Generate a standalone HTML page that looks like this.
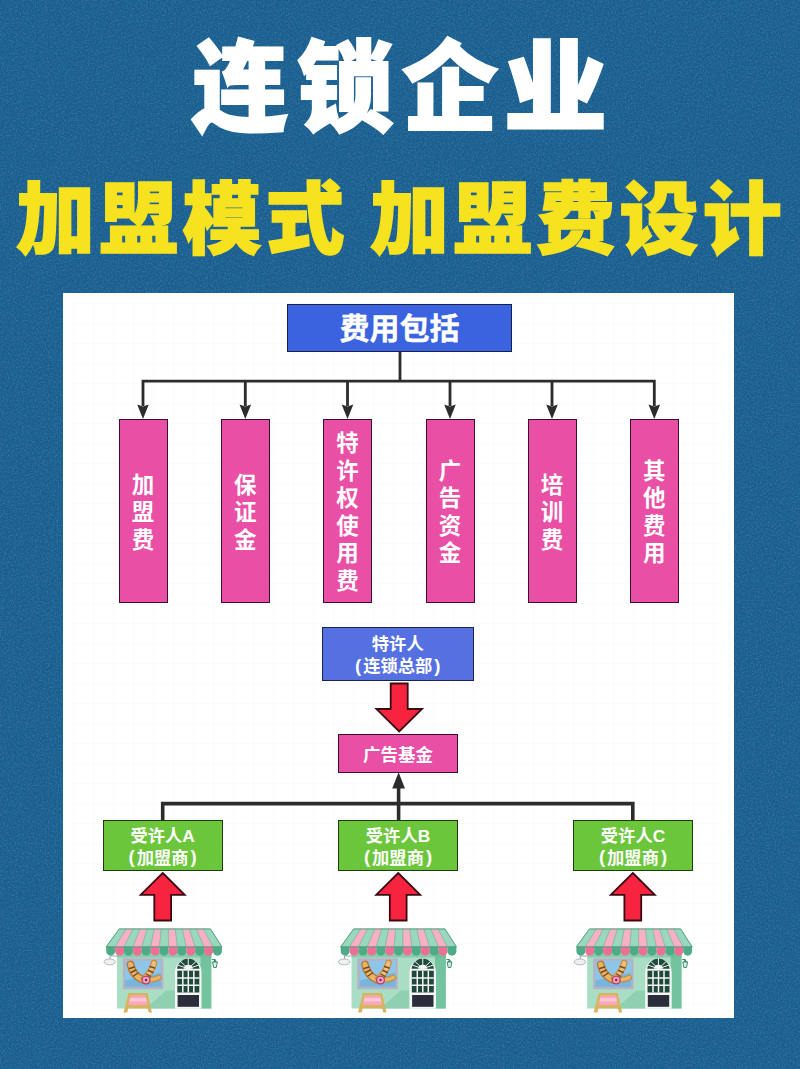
<!DOCTYPE html>
<html lang="zh-CN">
<head>
<meta charset="utf-8">
<title>连锁企业 加盟模式 加盟费设计</title>
<style>
html,body{margin:0;padding:0;}
body{width:800px;height:1069px;position:relative;overflow:hidden;background:#195c8e;
  font-family:"Liberation Sans","Noto Sans CJK SC",sans-serif;}
.abs{position:absolute;}
h1,h2{margin:0;position:absolute;white-space:nowrap;font-weight:900;font-family:"Liberation Sans","Noto Sans CJK SC",sans-serif;}
h1{left:192.4px;top:13.5px;font-size:99.2px;line-height:150px;color:#fff;letter-spacing:9.8px;-webkit-text-stroke:2.2px #fff;transform:scaleX(.965);transform-origin:0 0;}
h1 span{display:inline-block;transform:scaleX(1.08);transform-origin:45% 50%;}
h2{left:16px;top:162.5px;font-size:79px;line-height:116px;color:#f6e21f;letter-spacing:4.2px;word-spacing:-5px;-webkit-text-stroke:1.5px #f6e21f;}
#panel{left:63px;top:293px;width:670.5px;height:725px;background:#fff;}
#grid{left:10px;top:10px;width:650px;height:705px;
 background-image:linear-gradient(to right,rgba(0,0,0,.014) 1px,transparent 1px),linear-gradient(to bottom,rgba(0,0,0,.014) 1px,transparent 1px);
 background-size:20px 20px;}
.box{position:absolute;box-sizing:border-box;border:1.8px solid #222;color:#fff;font-weight:700;
  display:flex;align-items:center;justify-content:center;text-align:center;}
.pink{background:#e84fa5;border-color:#3a1030;}
.vbox{top:418.5px;width:49px;height:184.5px;font-size:22.5px;line-height:27.5px;padding-top:4px;}
.vbox span{display:block;width:23px;word-break:break-all;}
.blue1{background:#3b63e0;border-color:#14214f;}
.blue2{background:#5571e1;border-color:#1a2450;}
.green{background:#6cc63c;border-color:#1f3a12;}
.two{font-size:17.3px;line-height:22px;padding-top:2.5px;}
.two i{font-style:normal;font-size:18.5px;margin:0 2px 0 1px;position:relative;top:-.5px;}
.two i+i,.two i.r{margin:0 1px 0 2px;}
svg{position:absolute;left:0;top:0;}
</style>
</head>
<body>
<svg id="noise" width="800" height="1069" viewBox="0 0 800 1069"><filter id="nz" x="0" y="0" width="100%" height="100%"><feTurbulence type="fractalNoise" baseFrequency=".55" numOctaves="2" seed="7" result="t"/><feColorMatrix in="t" type="matrix" values="0 0 0 0 .02  0 0 0 0 .18  0 0 0 0 .32  .8 0 0 0 -.3"/></filter><filter id="nw" x="0" y="0" width="100%" height="100%"><feTurbulence type="fractalNoise" baseFrequency=".6" numOctaves="2" seed="21" result="t"/><feColorMatrix in="t" type="matrix" values="0 0 0 0 .3  0 0 0 0 .6  0 0 0 0 .82  0 .45 0 0 -.19"/></filter><rect width="800" height="1069" filter="url(#nz)"/><rect width="800" height="1069" filter="url(#nw)"/></svg>
<h1>连锁企<span>业</span></h1>
<h2>加盟模式 加盟费设计</h2>
<div id="panel" class="abs"><div id="grid" class="abs"></div></div>

<svg id="lines" width="800" height="1069" viewBox="0 0 800 1069">
<g fill="none" stroke="#2c2c2c" stroke-width="2.8" stroke-linejoin="miter">
<path d="M400 351V381.1"/>
<path d="M143 406V381.1H654.3V406"/>
<path d="M245.3 381.1V406M347.5 381.1V406M450 381.1V406M552 381.1V406"/>
</g>
<g fill="#2c2c2c"><path d="M143 419L137.2 404.5L143 406.5L148.8 404.5Z"/><path d="M245.3 419L239.5 404.5L245.3 406.5L251.1 404.5Z"/><path d="M347.5 419L341.7 404.5L347.5 406.5L353.3 404.5Z"/><path d="M450 419L444.2 404.5L450 406.5L455.8 404.5Z"/><path d="M552 419L546.2 404.5L552 406.5L557.8 404.5Z"/><path d="M654.3 419L648.5 404.5L654.3 406.5L660.1 404.5Z"/></g>
<g fill="none" stroke="#2c2c2c" stroke-width="3.6" stroke-linejoin="miter">
<path d="M162.7 821V803.6H632.8V821"/>
<path d="M398.6 821V786"/>
</g>
<path fill="#2c2c2c" d="M398.6 772.3L405 788.5H392.2Z"/>
<g fill="#f6243e" stroke="#3a0a14" stroke-width="1.8" stroke-linejoin="miter">
<path d="M390.7 683.5H407.7V709H422L399.2 731.5L376.4 709H390.7Z"/>
<path d="M162.7 873L184.7 894.8H171.1V920.5H154.3V894.8H140.7Z"/>
<path d="M398.2 873L420.2 894.8H406.6V920.5H389.8V894.8H376.2Z"/>
<path d="M632.8 873L654.8 894.8H641.2V920.5H624.4V894.8H610.8Z"/>
</g>
<g transform="translate(106 928.5)"><rect x="11" y="22" width="94.3" height="58" fill="#a9dec4"/><path d="M94.5 22H105.3V80H94.5Z" fill="#74c39f"/><path d="M69 80L40 80L60 62L69 62Z" fill="#8fd0b0"/><rect x="11" y="22" width="94.3" height="7" fill="#6bb896" opacity=".5"/><rect x="16.9" y="29.9" width="40.4" height="30.8" fill="#b7b1c8"/><rect x="19.2" y="32.2" width="35.8" height="26" fill="#8ec6ea"/><path d="M19.2 52L55 44V58.2H19.2Z" fill="#79b4dd"/><g stroke-linecap="round" fill="none"><path d="M24.5 36Q26.5 46.5 36 51" stroke="#b87a34" stroke-width="7.8"/><path d="M24.5 36Q26.5 46.5 36 51" stroke="#e7b566" stroke-width="5"/><path d="M48 34.5Q45.5 44 38 50" stroke="#c98a3c" stroke-width="6.5"/><path d="M48 34.5Q45.5 44 38 50" stroke="#ecc07a" stroke-width="4.2"/><path d="M53 49Q47 52 42 51" stroke="#c98a3c" stroke-width="5.5"/><path d="M53 49Q47 52 42 51" stroke="#e7b566" stroke-width="3.4"/><path d="M23.5 40l5-1.5M25 44l5-2.5M27.5 47.5l4.5-3M44 38l4.5 1.5M42.5 42l4.5 2M40.5 45.5l4 2.5" stroke="#7a4520" stroke-width="1.4"/></g><circle cx="40" cy="51.5" r="4.6" fill="#b0426a"/><circle cx="40" cy="51.5" r="3.3" fill="#f2a0c0"/><circle cx="40" cy="51.5" r="1.2" fill="#7b2b4a"/><path d="M69 80V43.5A13.25 13.25 0 0 1 95.5 43.5V80Z" fill="#f4f7f5"/><path d="M71 40.2A11.3 11.3 0 0 1 93.5 40.2Z" fill="#1f4a3c"/><g stroke="#f4f7f5" stroke-width="1" fill="none"><path d="M82.25 40.2V29.5M82.25 40.2L74 32.5M82.25 40.2L90.5 32.5M82.25 40.2L71.5 36.5M82.25 40.2L93 36.5"/></g><path d="M77.7 40.2A4.6 4.6 0 0 1 86.8 40.2Z" fill="#f4f7f5"/><rect x="71.3" y="42.2" width="22" height="21.8" fill="#21473b"/><g stroke="#f4f7f5" stroke-width="1.5"><path d="M76.8 42.2V64M82.3 42.2V64M87.8 42.2V64M71.3 49.4H93.3M71.3 56.7H93.3"/></g><rect x="71.6" y="66.5" width="21.4" height="11.8" fill="#2a2e3b"/><path d="M22.5 64.5H41.5L46 84H42.8L41.8 80H22.2L21.2 84H17.5Z" fill="#d9b45f"/><path d="M24.3 67H39.7L41.7 76.5H22.3Z" fill="#f6a9bd"/><path d="M24 69.5H40L40.8 73H23.2Z" fill="#fbc6d3"/><path d="M11 27.5H4V30.5" stroke="#9aa7a8" stroke-width="1" fill="none"/><ellipse cx="3.7" cy="33.4" rx="5.7" ry="2.9" fill="#eef1f2" stroke="#aab4b6" stroke-width=".9"/><path d="M106 31H109V33" stroke="#3f8f6d" stroke-width="1" fill="none"/><path d="M106.6 33.5H111.4L110.3 39H107.7Z" fill="#d8efe4" stroke="#3f8f6d" stroke-width="1"/><path d="M107 33.5L109 30.5L111 33.5Z" fill="#3f8f6d"/><path d="M13.2 0.4H20.22L9.1 18.3H0.2Z" fill="#9ad8bd" stroke="#6fa892" stroke-width=".5"/><path d="M0.2 18.3H9.1V22.7A4.45 4.45 0 0 1 0.2 22.7Z" fill="#4dab86"/><path d="M20.22 0.4H27.25L18 18.3H9.1Z" fill="#f8b0c5" stroke="#6fa892" stroke-width=".5"/><path d="M9.1 18.3H18V22.7A4.45 4.45 0 0 1 9.1 22.7Z" fill="#ee6f94"/><path d="M27.25 0.4H34.27L26.9 18.3H18Z" fill="#9ad8bd" stroke="#6fa892" stroke-width=".5"/><path d="M18 18.3H26.9V22.7A4.45 4.45 0 0 1 18 22.7Z" fill="#4dab86"/><path d="M34.27 0.4H41.29L35.8 18.3H26.9Z" fill="#f8b0c5" stroke="#6fa892" stroke-width=".5"/><path d="M26.9 18.3H35.8V22.7A4.45 4.45 0 0 1 26.9 22.7Z" fill="#ee6f94"/><path d="M41.29 0.4H48.32L44.7 18.3H35.8Z" fill="#9ad8bd" stroke="#6fa892" stroke-width=".5"/><path d="M35.8 18.3H44.7V22.7A4.45 4.45 0 0 1 35.8 22.7Z" fill="#4dab86"/><path d="M48.32 0.4H55.34L53.6 18.3H44.7Z" fill="#f8b0c5" stroke="#6fa892" stroke-width=".5"/><path d="M44.7 18.3H53.6V22.7A4.45 4.45 0 0 1 44.7 22.7Z" fill="#ee6f94"/><path d="M55.34 0.4H62.36L62.5 18.3H53.6Z" fill="#9ad8bd" stroke="#6fa892" stroke-width=".5"/><path d="M53.6 18.3H62.5V22.7A4.45 4.45 0 0 1 53.6 22.7Z" fill="#4dab86"/><path d="M62.36 0.4H69.38L71.4 18.3H62.5Z" fill="#f8b0c5" stroke="#6fa892" stroke-width=".5"/><path d="M62.5 18.3H71.4V22.7A4.45 4.45 0 0 1 62.5 22.7Z" fill="#ee6f94"/><path d="M69.38 0.4H76.41L80.3 18.3H71.4Z" fill="#9ad8bd" stroke="#6fa892" stroke-width=".5"/><path d="M71.4 18.3H80.3V22.7A4.45 4.45 0 0 1 71.4 22.7Z" fill="#4dab86"/><path d="M76.41 0.4H83.43L89.2 18.3H80.3Z" fill="#f8b0c5" stroke="#6fa892" stroke-width=".5"/><path d="M80.3 18.3H89.2V22.7A4.45 4.45 0 0 1 80.3 22.7Z" fill="#ee6f94"/><path d="M83.43 0.4H90.45L98.1 18.3H89.2Z" fill="#9ad8bd" stroke="#6fa892" stroke-width=".5"/><path d="M89.2 18.3H98.1V22.7A4.45 4.45 0 0 1 89.2 22.7Z" fill="#4dab86"/><path d="M90.45 0.4H97.48L107 18.3H98.1Z" fill="#f8b0c5" stroke="#6fa892" stroke-width=".5"/><path d="M98.1 18.3H107V22.7A4.45 4.45 0 0 1 98.1 22.7Z" fill="#ee6f94"/><path d="M97.48 0.4H104.5L115.9 18.3H107Z" fill="#9ad8bd" stroke="#6fa892" stroke-width=".5"/><path d="M107 18.3H115.9V22.7A4.45 4.45 0 0 1 107 22.7Z" fill="#4dab86"/><path d="M13.2 0.4H104.5L115.9 18.3H0.2Z" fill="none" stroke="#4a9a7c" stroke-width=".8"/></g>
<g transform="translate(340.5 928.5)"><rect x="11" y="22" width="94.3" height="58" fill="#a9dec4"/><path d="M94.5 22H105.3V80H94.5Z" fill="#74c39f"/><path d="M69 80L40 80L60 62L69 62Z" fill="#8fd0b0"/><rect x="11" y="22" width="94.3" height="7" fill="#6bb896" opacity=".5"/><rect x="16.9" y="29.9" width="40.4" height="30.8" fill="#b7b1c8"/><rect x="19.2" y="32.2" width="35.8" height="26" fill="#8ec6ea"/><path d="M19.2 52L55 44V58.2H19.2Z" fill="#79b4dd"/><g stroke-linecap="round" fill="none"><path d="M24.5 36Q26.5 46.5 36 51" stroke="#b87a34" stroke-width="7.8"/><path d="M24.5 36Q26.5 46.5 36 51" stroke="#e7b566" stroke-width="5"/><path d="M48 34.5Q45.5 44 38 50" stroke="#c98a3c" stroke-width="6.5"/><path d="M48 34.5Q45.5 44 38 50" stroke="#ecc07a" stroke-width="4.2"/><path d="M53 49Q47 52 42 51" stroke="#c98a3c" stroke-width="5.5"/><path d="M53 49Q47 52 42 51" stroke="#e7b566" stroke-width="3.4"/><path d="M23.5 40l5-1.5M25 44l5-2.5M27.5 47.5l4.5-3M44 38l4.5 1.5M42.5 42l4.5 2M40.5 45.5l4 2.5" stroke="#7a4520" stroke-width="1.4"/></g><circle cx="40" cy="51.5" r="4.6" fill="#b0426a"/><circle cx="40" cy="51.5" r="3.3" fill="#f2a0c0"/><circle cx="40" cy="51.5" r="1.2" fill="#7b2b4a"/><path d="M69 80V43.5A13.25 13.25 0 0 1 95.5 43.5V80Z" fill="#f4f7f5"/><path d="M71 40.2A11.3 11.3 0 0 1 93.5 40.2Z" fill="#1f4a3c"/><g stroke="#f4f7f5" stroke-width="1" fill="none"><path d="M82.25 40.2V29.5M82.25 40.2L74 32.5M82.25 40.2L90.5 32.5M82.25 40.2L71.5 36.5M82.25 40.2L93 36.5"/></g><path d="M77.7 40.2A4.6 4.6 0 0 1 86.8 40.2Z" fill="#f4f7f5"/><rect x="71.3" y="42.2" width="22" height="21.8" fill="#21473b"/><g stroke="#f4f7f5" stroke-width="1.5"><path d="M76.8 42.2V64M82.3 42.2V64M87.8 42.2V64M71.3 49.4H93.3M71.3 56.7H93.3"/></g><rect x="71.6" y="66.5" width="21.4" height="11.8" fill="#2a2e3b"/><path d="M22.5 64.5H41.5L46 84H42.8L41.8 80H22.2L21.2 84H17.5Z" fill="#d9b45f"/><path d="M24.3 67H39.7L41.7 76.5H22.3Z" fill="#f6a9bd"/><path d="M24 69.5H40L40.8 73H23.2Z" fill="#fbc6d3"/><path d="M11 27.5H4V30.5" stroke="#9aa7a8" stroke-width="1" fill="none"/><ellipse cx="3.7" cy="33.4" rx="5.7" ry="2.9" fill="#eef1f2" stroke="#aab4b6" stroke-width=".9"/><path d="M106 31H109V33" stroke="#3f8f6d" stroke-width="1" fill="none"/><path d="M106.6 33.5H111.4L110.3 39H107.7Z" fill="#d8efe4" stroke="#3f8f6d" stroke-width="1"/><path d="M107 33.5L109 30.5L111 33.5Z" fill="#3f8f6d"/><path d="M13.2 0.4H20.22L9.1 18.3H0.2Z" fill="#9ad8bd" stroke="#6fa892" stroke-width=".5"/><path d="M0.2 18.3H9.1V22.7A4.45 4.45 0 0 1 0.2 22.7Z" fill="#4dab86"/><path d="M20.22 0.4H27.25L18 18.3H9.1Z" fill="#f8b0c5" stroke="#6fa892" stroke-width=".5"/><path d="M9.1 18.3H18V22.7A4.45 4.45 0 0 1 9.1 22.7Z" fill="#ee6f94"/><path d="M27.25 0.4H34.27L26.9 18.3H18Z" fill="#9ad8bd" stroke="#6fa892" stroke-width=".5"/><path d="M18 18.3H26.9V22.7A4.45 4.45 0 0 1 18 22.7Z" fill="#4dab86"/><path d="M34.27 0.4H41.29L35.8 18.3H26.9Z" fill="#f8b0c5" stroke="#6fa892" stroke-width=".5"/><path d="M26.9 18.3H35.8V22.7A4.45 4.45 0 0 1 26.9 22.7Z" fill="#ee6f94"/><path d="M41.29 0.4H48.32L44.7 18.3H35.8Z" fill="#9ad8bd" stroke="#6fa892" stroke-width=".5"/><path d="M35.8 18.3H44.7V22.7A4.45 4.45 0 0 1 35.8 22.7Z" fill="#4dab86"/><path d="M48.32 0.4H55.34L53.6 18.3H44.7Z" fill="#f8b0c5" stroke="#6fa892" stroke-width=".5"/><path d="M44.7 18.3H53.6V22.7A4.45 4.45 0 0 1 44.7 22.7Z" fill="#ee6f94"/><path d="M55.34 0.4H62.36L62.5 18.3H53.6Z" fill="#9ad8bd" stroke="#6fa892" stroke-width=".5"/><path d="M53.6 18.3H62.5V22.7A4.45 4.45 0 0 1 53.6 22.7Z" fill="#4dab86"/><path d="M62.36 0.4H69.38L71.4 18.3H62.5Z" fill="#f8b0c5" stroke="#6fa892" stroke-width=".5"/><path d="M62.5 18.3H71.4V22.7A4.45 4.45 0 0 1 62.5 22.7Z" fill="#ee6f94"/><path d="M69.38 0.4H76.41L80.3 18.3H71.4Z" fill="#9ad8bd" stroke="#6fa892" stroke-width=".5"/><path d="M71.4 18.3H80.3V22.7A4.45 4.45 0 0 1 71.4 22.7Z" fill="#4dab86"/><path d="M76.41 0.4H83.43L89.2 18.3H80.3Z" fill="#f8b0c5" stroke="#6fa892" stroke-width=".5"/><path d="M80.3 18.3H89.2V22.7A4.45 4.45 0 0 1 80.3 22.7Z" fill="#ee6f94"/><path d="M83.43 0.4H90.45L98.1 18.3H89.2Z" fill="#9ad8bd" stroke="#6fa892" stroke-width=".5"/><path d="M89.2 18.3H98.1V22.7A4.45 4.45 0 0 1 89.2 22.7Z" fill="#4dab86"/><path d="M90.45 0.4H97.48L107 18.3H98.1Z" fill="#f8b0c5" stroke="#6fa892" stroke-width=".5"/><path d="M98.1 18.3H107V22.7A4.45 4.45 0 0 1 98.1 22.7Z" fill="#ee6f94"/><path d="M97.48 0.4H104.5L115.9 18.3H107Z" fill="#9ad8bd" stroke="#6fa892" stroke-width=".5"/><path d="M107 18.3H115.9V22.7A4.45 4.45 0 0 1 107 22.7Z" fill="#4dab86"/><path d="M13.2 0.4H104.5L115.9 18.3H0.2Z" fill="none" stroke="#4a9a7c" stroke-width=".8"/></g>
<g transform="translate(576.2 928.5)"><rect x="11" y="22" width="94.3" height="58" fill="#a9dec4"/><path d="M94.5 22H105.3V80H94.5Z" fill="#74c39f"/><path d="M69 80L40 80L60 62L69 62Z" fill="#8fd0b0"/><rect x="11" y="22" width="94.3" height="7" fill="#6bb896" opacity=".5"/><rect x="16.9" y="29.9" width="40.4" height="30.8" fill="#b7b1c8"/><rect x="19.2" y="32.2" width="35.8" height="26" fill="#8ec6ea"/><path d="M19.2 52L55 44V58.2H19.2Z" fill="#79b4dd"/><g stroke-linecap="round" fill="none"><path d="M24.5 36Q26.5 46.5 36 51" stroke="#b87a34" stroke-width="7.8"/><path d="M24.5 36Q26.5 46.5 36 51" stroke="#e7b566" stroke-width="5"/><path d="M48 34.5Q45.5 44 38 50" stroke="#c98a3c" stroke-width="6.5"/><path d="M48 34.5Q45.5 44 38 50" stroke="#ecc07a" stroke-width="4.2"/><path d="M53 49Q47 52 42 51" stroke="#c98a3c" stroke-width="5.5"/><path d="M53 49Q47 52 42 51" stroke="#e7b566" stroke-width="3.4"/><path d="M23.5 40l5-1.5M25 44l5-2.5M27.5 47.5l4.5-3M44 38l4.5 1.5M42.5 42l4.5 2M40.5 45.5l4 2.5" stroke="#7a4520" stroke-width="1.4"/></g><circle cx="40" cy="51.5" r="4.6" fill="#b0426a"/><circle cx="40" cy="51.5" r="3.3" fill="#f2a0c0"/><circle cx="40" cy="51.5" r="1.2" fill="#7b2b4a"/><path d="M69 80V43.5A13.25 13.25 0 0 1 95.5 43.5V80Z" fill="#f4f7f5"/><path d="M71 40.2A11.3 11.3 0 0 1 93.5 40.2Z" fill="#1f4a3c"/><g stroke="#f4f7f5" stroke-width="1" fill="none"><path d="M82.25 40.2V29.5M82.25 40.2L74 32.5M82.25 40.2L90.5 32.5M82.25 40.2L71.5 36.5M82.25 40.2L93 36.5"/></g><path d="M77.7 40.2A4.6 4.6 0 0 1 86.8 40.2Z" fill="#f4f7f5"/><rect x="71.3" y="42.2" width="22" height="21.8" fill="#21473b"/><g stroke="#f4f7f5" stroke-width="1.5"><path d="M76.8 42.2V64M82.3 42.2V64M87.8 42.2V64M71.3 49.4H93.3M71.3 56.7H93.3"/></g><rect x="71.6" y="66.5" width="21.4" height="11.8" fill="#2a2e3b"/><path d="M22.5 64.5H41.5L46 84H42.8L41.8 80H22.2L21.2 84H17.5Z" fill="#d9b45f"/><path d="M24.3 67H39.7L41.7 76.5H22.3Z" fill="#f6a9bd"/><path d="M24 69.5H40L40.8 73H23.2Z" fill="#fbc6d3"/><path d="M11 27.5H4V30.5" stroke="#9aa7a8" stroke-width="1" fill="none"/><ellipse cx="3.7" cy="33.4" rx="5.7" ry="2.9" fill="#eef1f2" stroke="#aab4b6" stroke-width=".9"/><path d="M106 31H109V33" stroke="#3f8f6d" stroke-width="1" fill="none"/><path d="M106.6 33.5H111.4L110.3 39H107.7Z" fill="#d8efe4" stroke="#3f8f6d" stroke-width="1"/><path d="M107 33.5L109 30.5L111 33.5Z" fill="#3f8f6d"/><path d="M13.2 0.4H20.22L9.1 18.3H0.2Z" fill="#9ad8bd" stroke="#6fa892" stroke-width=".5"/><path d="M0.2 18.3H9.1V22.7A4.45 4.45 0 0 1 0.2 22.7Z" fill="#4dab86"/><path d="M20.22 0.4H27.25L18 18.3H9.1Z" fill="#f8b0c5" stroke="#6fa892" stroke-width=".5"/><path d="M9.1 18.3H18V22.7A4.45 4.45 0 0 1 9.1 22.7Z" fill="#ee6f94"/><path d="M27.25 0.4H34.27L26.9 18.3H18Z" fill="#9ad8bd" stroke="#6fa892" stroke-width=".5"/><path d="M18 18.3H26.9V22.7A4.45 4.45 0 0 1 18 22.7Z" fill="#4dab86"/><path d="M34.27 0.4H41.29L35.8 18.3H26.9Z" fill="#f8b0c5" stroke="#6fa892" stroke-width=".5"/><path d="M26.9 18.3H35.8V22.7A4.45 4.45 0 0 1 26.9 22.7Z" fill="#ee6f94"/><path d="M41.29 0.4H48.32L44.7 18.3H35.8Z" fill="#9ad8bd" stroke="#6fa892" stroke-width=".5"/><path d="M35.8 18.3H44.7V22.7A4.45 4.45 0 0 1 35.8 22.7Z" fill="#4dab86"/><path d="M48.32 0.4H55.34L53.6 18.3H44.7Z" fill="#f8b0c5" stroke="#6fa892" stroke-width=".5"/><path d="M44.7 18.3H53.6V22.7A4.45 4.45 0 0 1 44.7 22.7Z" fill="#ee6f94"/><path d="M55.34 0.4H62.36L62.5 18.3H53.6Z" fill="#9ad8bd" stroke="#6fa892" stroke-width=".5"/><path d="M53.6 18.3H62.5V22.7A4.45 4.45 0 0 1 53.6 22.7Z" fill="#4dab86"/><path d="M62.36 0.4H69.38L71.4 18.3H62.5Z" fill="#f8b0c5" stroke="#6fa892" stroke-width=".5"/><path d="M62.5 18.3H71.4V22.7A4.45 4.45 0 0 1 62.5 22.7Z" fill="#ee6f94"/><path d="M69.38 0.4H76.41L80.3 18.3H71.4Z" fill="#9ad8bd" stroke="#6fa892" stroke-width=".5"/><path d="M71.4 18.3H80.3V22.7A4.45 4.45 0 0 1 71.4 22.7Z" fill="#4dab86"/><path d="M76.41 0.4H83.43L89.2 18.3H80.3Z" fill="#f8b0c5" stroke="#6fa892" stroke-width=".5"/><path d="M80.3 18.3H89.2V22.7A4.45 4.45 0 0 1 80.3 22.7Z" fill="#ee6f94"/><path d="M83.43 0.4H90.45L98.1 18.3H89.2Z" fill="#9ad8bd" stroke="#6fa892" stroke-width=".5"/><path d="M89.2 18.3H98.1V22.7A4.45 4.45 0 0 1 89.2 22.7Z" fill="#4dab86"/><path d="M90.45 0.4H97.48L107 18.3H98.1Z" fill="#f8b0c5" stroke="#6fa892" stroke-width=".5"/><path d="M98.1 18.3H107V22.7A4.45 4.45 0 0 1 98.1 22.7Z" fill="#ee6f94"/><path d="M97.48 0.4H104.5L115.9 18.3H107Z" fill="#9ad8bd" stroke="#6fa892" stroke-width=".5"/><path d="M107 18.3H115.9V22.7A4.45 4.45 0 0 1 107 22.7Z" fill="#4dab86"/><path d="M13.2 0.4H104.5L115.9 18.3H0.2Z" fill="none" stroke="#4a9a7c" stroke-width=".8"/></g>
</svg>

<div class="box blue1" style="left:287px;top:303.5px;width:225px;height:48.5px;font-size:30px;"><div style="padding-bottom:3px;-webkit-text-stroke:.4px #fff;">费用包括</div></div>

<div class="box pink vbox" style="left:118.5px;"><span>加盟费</span></div>
<div class="box pink vbox" style="left:220.8px;"><span>保证金</span></div>
<div class="box pink vbox" style="left:323px;"><span>特许权使用费</span></div>
<div class="box pink vbox" style="left:425.5px;"><span>广告资金</span></div>
<div class="box pink vbox" style="left:527.5px;"><span>培训费</span></div>
<div class="box pink vbox" style="left:629.8px;"><span>其他费用</span></div>

<div class="box blue2 two" style="left:322px;top:627px;width:151.5px;height:54px;"><div>特许人<br><i>(</i>连锁总部<i class="r">)</i></div></div>
<div class="box pink" style="left:338px;top:734px;width:120px;height:38.5px;font-size:17.5px;">广告基金</div>

<div class="box green two" style="left:102.7px;top:820px;width:120px;height:51px;"><div>受许人A<br><i>(</i>加盟商<i class="r">)</i></div></div>
<div class="box green two" style="left:338px;top:820px;width:120px;height:51px;"><div>受许人B<br><i>(</i>加盟商<i class="r">)</i></div></div>
<div class="box green two" style="left:573px;top:820px;width:120px;height:51px;"><div>受许人C<br><i>(</i>加盟商<i class="r">)</i></div></div>

</body>
</html>
